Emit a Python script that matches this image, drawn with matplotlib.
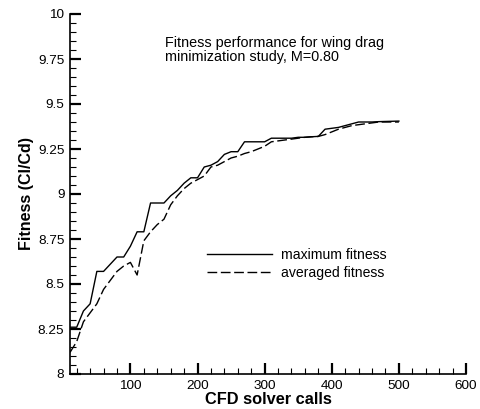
import matplotlib
matplotlib.use("Agg")
import matplotlib.pyplot as plt
from matplotlib.ticker import MultipleLocator, FixedLocator

plt.rcParams['font.family'] = ['Liberation Sans', 'DejaVu Sans']

calls = list(range(10, 510, 10))
max_fitness = [8.26, 8.26, 8.35, 8.39, 8.57, 8.57, 8.61, 8.65, 8.65, 8.71,
               8.79, 8.79, 8.95, 8.95, 8.95, 8.99, 9.02, 9.06, 9.09, 9.09,
               9.15, 9.16, 9.18, 9.22, 9.235, 9.235, 9.29, 9.29, 9.29, 9.29,
               9.31, 9.31, 9.31, 9.31, 9.315, 9.315, 9.318, 9.32, 9.36, 9.365,
               9.37, 9.38, 9.39, 9.40, 9.40, 9.40, 9.402, 9.403, 9.404, 9.405]
avg_fitness = [8.12, 8.18, 8.29, 8.34, 8.39, 8.47, 8.52, 8.57, 8.60, 8.62,
               8.55, 8.74, 8.79, 8.83, 8.86, 8.94, 8.99, 9.03, 9.06, 9.08,
               9.10, 9.15, 9.16, 9.18, 9.20, 9.21, 9.225, 9.235, 9.25, 9.265,
               9.29, 9.295, 9.30, 9.305, 9.31, 9.315, 9.318, 9.32, 9.33, 9.345,
               9.36, 9.37, 9.38, 9.385, 9.39, 9.395, 9.40, 9.40, 9.40, 9.40]

x_ticks = [100, 200, 300, 400, 500, 600]
y_ticks = [8, 8.25, 8.5, 8.75, 9, 9.25, 9.5, 9.75, 10]
y_tick_labels = ["8", "8.25", "8.5", "8.75", "9", "9.25", "9.5", "9.75", "10"]

fig = plt.figure(figsize=(4.8, 4.09), dpi=100)
ax = fig.add_axes([70/480, 35/409, 396/480, 360/409])

ax.plot(calls, max_fitness, color='black', lw=1.0, label='maximum fitness')
ax.plot(calls, avg_fitness, color='black', lw=1.0, linestyle=(0, (7, 2.6)),
        label='averaged fitness')

ax.set_xlim(10, 600)
ax.set_ylim(8, 10)
ax.xaxis.set_major_locator(FixedLocator(x_ticks))
ax.xaxis.set_minor_locator(MultipleLocator(20))
ax.set_yticks(y_ticks)
ax.set_yticklabels(y_tick_labels)
ax.yaxis.set_minor_locator(MultipleLocator(0.05))

for s in ['top', 'right']:
    ax.spines[s].set_visible(False)
for s in ['left', 'bottom']:
    ax.spines[s].set_linewidth(1.2)

ax.tick_params(which='major', direction='in', length=8, width=1.6, labelsize=9.7, pad=4)
ax.tick_params(which='minor', direction='in', length=4, width=0.8)

ax.set_xlabel('CFD solver calls', fontsize=11.8, fontweight='bold', labelpad=0)
ax.set_ylabel('Fitness (Cl/Cd)', fontsize=11.5, fontweight='bold', labelpad=3)

ax.text(165/480, (409-36)/409, 'Fitness performance for wing drag\nminimization study, M=0.80',
        transform=fig.transFigure, fontsize=10.4, va='top', ha='left', linespacing=1.0)

leg = ax.legend(loc='upper left', bbox_to_anchor=(207/480, (409-248)/409),
                bbox_transform=fig.transFigure, frameon=False, fontsize=10.1,
                handlelength=4.6, handletextpad=0.7, labelspacing=0.25,
                borderpad=0, borderaxespad=0)

fig.savefig('out.png', dpi=100)
